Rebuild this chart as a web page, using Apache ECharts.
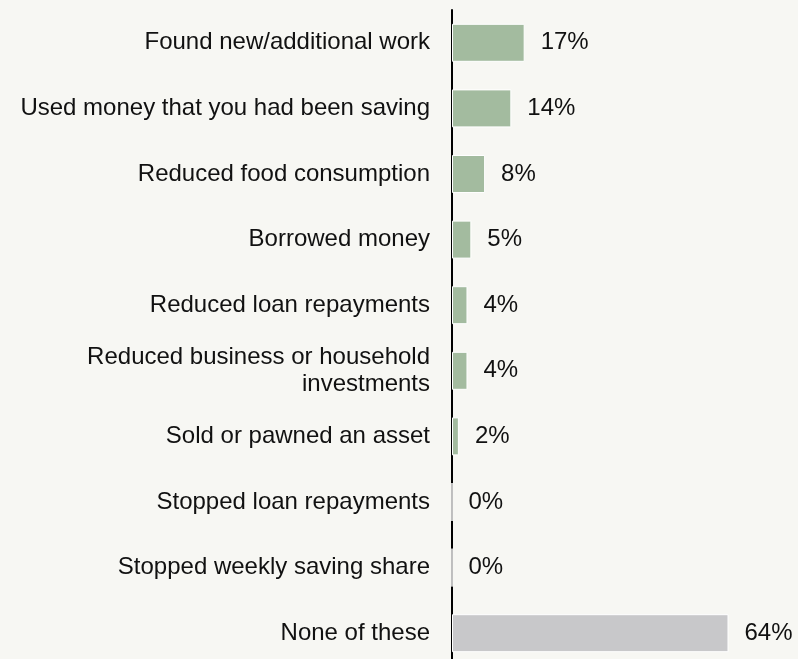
<!DOCTYPE html>
<html><head><meta charset="utf-8">
<script src="https://cdn.jsdelivr.net/npm/echarts@6/dist/echarts.min.js"></script>
<style>html,body{margin:0;padding:0;background:#f7f7f3;}#c{width:798px;height:659px;}</style>
</head><body><div id="c"></div>
<script>
const categories = [
  "Found new/additional work",
  "Used money that you had been saving",
  "Reduced food consumption",
  "Borrowed money",
  "Reduced loan repayments",
  "Reduced business or household\ninvestments",
  "Sold or pawned an asset",
  "Stopped loan repayments",
  "Stopped weekly saving share",
  "None of these"
];
const values = [16.9, 13.8, 7.7, 4.5, 3.6, 3.6, 1.6, 0, 0, 64.3];
const highlightIndex = 9;

const chart = echarts.init(document.getElementById('c'), null, {renderer: 'canvas'});
chart.setOption({
  backgroundColor: '#f7f7f3',
  animation: false,
  grid: {left: 452, top: 10, width: 430, height: 656, containLabel: false, outerBoundsMode: 'none'},
  xAxis: {type: 'value', min: 0, max: 100, show: false},
  yAxis: {
    type: 'category', data: categories, inverse: true,
    axisLine: {show: true, lineStyle: {color: '#000', width: 2}},
    axisTick: {show: false},
    axisLabel: {color: '#111', fontSize: 24, fontFamily: 'Liberation Sans, Arial, sans-serif', margin: 22, lineHeight: 27, align: 'right'}
  },
  series: [{
    type: 'bar',
    data: values.map((v, i) => ({value: v, itemStyle: {color: i === highlightIndex ? '#c8c8ca' : '#a3bb9f'}})),
    barWidth: 38,
    itemStyle: {borderColor: '#ffffff', borderWidth: 1},
    label: {
      show: true, position: 'right', distance: 16,
      color: '#111', fontSize: 24, fontFamily: 'Liberation Sans, Arial, sans-serif',
      formatter: p => Math.round(p.value) + '%'
    }
  }]
});
</script></body></html>
